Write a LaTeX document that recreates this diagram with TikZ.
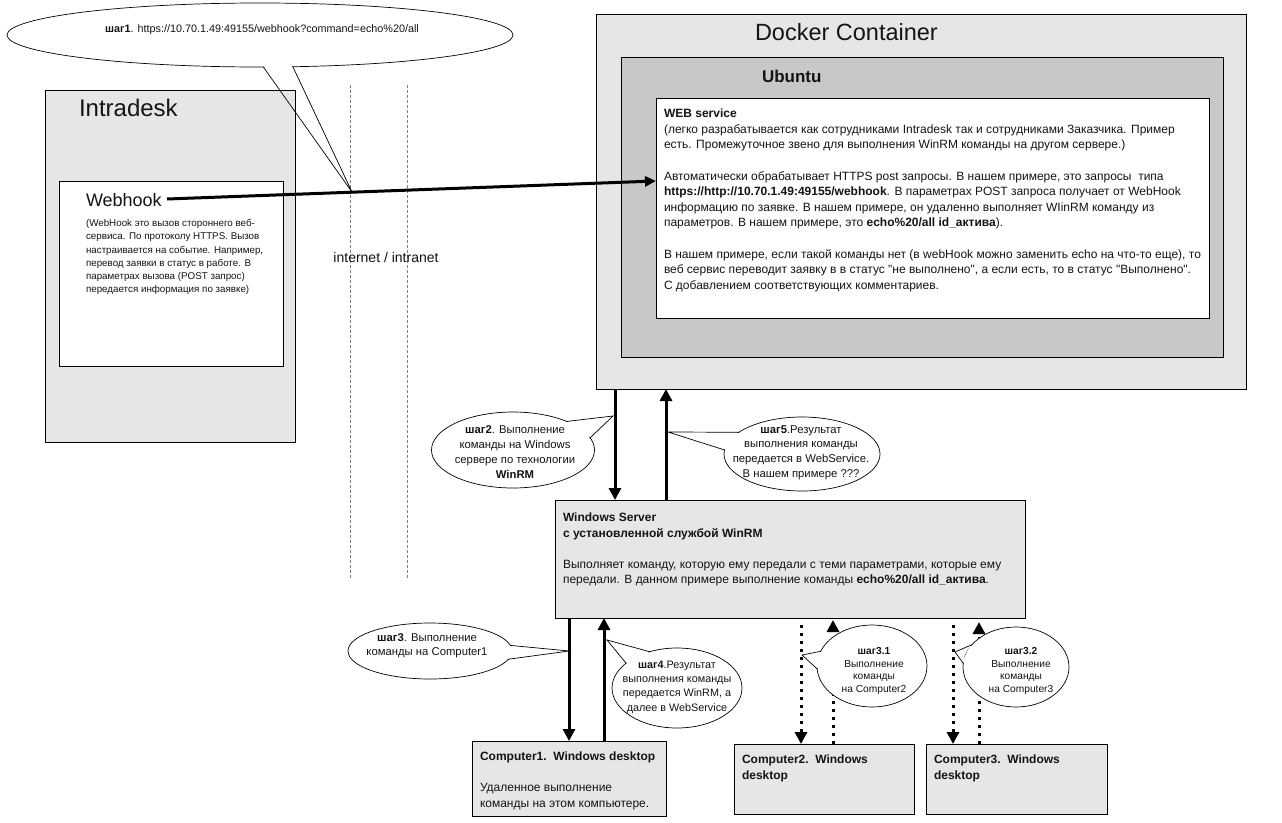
\documentclass[tikz,border=0pt]{standalone}
\usepackage{fontspec}
\setmainfont{Liberation Sans}[Ligatures=TeXOff]
\usetikzlibrary{arrows.meta,calc,shapes.geometric}
\definecolor{lgray}{HTML}{E6E6E6}
\definecolor{mgray}{HTML}{C8C8C8}
\definecolor{txt}{HTML}{141414}
\newcommand\bubtail[4]{%
  \fill[white] ($(#1.#2)!0.12!(#4)$) -- ($(#1.#3)!0.12!(#4)$) -- ($(#1.#3)!0.06!(#1.center)$) -- ($(#1.#2)!0.06!(#1.center)$) -- cycle;
  \draw[tail] (#1.#2) -- (#4) -- (#1.#3);}
\begin{document}
\begin{tikzpicture}[x=1pt,y=-1pt,
  box/.style={draw=black, line width=0.9pt, inner sep=0, outer sep=0, anchor=north west},
  t/.style={inner sep=0, outer sep=0, text=txt, align=left},
  bubble/.style={ellipse, draw=black, line width=0.7pt, fill=white, inner sep=0, outer sep=0},
  arr/.style={line width=3pt, -{Triangle[width=12pt,length=12pt]}},
  darr/.style={line width=3pt, dash pattern=on 3pt off 5pt, -{Triangle[width=12pt,length=12pt]}},
  net/.style={draw=gray, line width=0.6pt, dash pattern=on 3pt off 2pt},
  tail/.style={line width=0.7pt}
]
\useasboundingbox[fill=white] (0,0) rectangle (1282,822);

% network boundary
\draw[net] (350,85) -- (350,580);
\draw[net] (407,85) -- (407,580);
\node[t, font=\fontsize{14}{16}\selectfont] (inet) at (386,257) {internet / intranet};

% Intradesk
\node[box, fill=lgray, minimum width=250, minimum height=352] (intra) at (45,90) {};
\node[t, anchor=west, font=\fontsize{24}{28}\selectfont] (intraT) at (79,108) {Intradesk};
\node[box, fill=white, minimum width=224, minimum height=185] (whbox) at (59,181) {};
\node[t, anchor=west, font=\fontsize{18}{22}\selectfont] (whk) at (86,200) {Webhook};
\node[t, anchor=north west, font=\fontsize{9.8}{13.2}\selectfont] (whdesc) at (86,219.5) {(WebHook это вызов стороннего веб-\\
сервиса. По протоколу HTTPS. Вызов\\
настраивается на событие. Например,\\
перевод заявки в статус в работе. В\\
параметрах вызова (POST запрос)\\
передается информация по заявке)};

% Docker / Ubuntu / Web service
\node[box, fill=lgray, minimum width=650, minimum height=375] (docker) at (596,14) {};
\node[t, anchor=west, font=\fontsize{23.5}{27}\selectfont] (dockerT) at (755,32) {Docker Container};
\node[box, fill=mgray, minimum width=602, minimum height=300] (ubuntu) at (621,57) {};
\node[t, anchor=west, font=\fontsize{17}{20}\selectfont\bfseries] (ubuntuT) at (762,76) {Ubuntu};
\node[box, fill=white, minimum width=553, minimum height=220] (ws) at (656,98) {};
\node[t, anchor=north west, font=\fontsize{12}{15.6}\selectfont] (wsT) at (664,109) {\textbf{WEB service}\\
(легко разрабатывается как сотрудниками Intradesk так и сотрудниками Заказчика. Пример\\
есть. Промежуточное звено для выполнения WinRM команды на другом сервере.)\\
\mbox{}\\
Автоматически обрабатывает HTTPS post запросы. В нашем примере, это запросы~~типа\\
\textbf{https://http://10.70.1.49:49155/webhook}. В параметрах POST запроса получает от WebHook\\
информацию по заявке. В нашем примере, он удаленно выполняет WIinRM команду из\\
параметров. В нашем примере, это \textbf{echo\%20/all id\_актива}).\\
\mbox{}\\
В нашем примере, если такой команды нет (в webHook можно заменить echo на что-то еще), то\\
веб сервис переводит заявку в в статус "не выполнено", а если есть, то в статус "Выполнено".\\
С добавлением соответствующих комментариев.};

% Windows server
\node[box, fill=lgray, minimum width=470, minimum height=118] (win) at (555,500) {};
\node[t, anchor=north west, font=\fontsize{12}{15.5}\selectfont] (winT) at (563,513) {\textbf{Windows Server}\\
\textbf{с установленной службой WinRM}\\
\mbox{}\\
Выполняет команду, которую ему передали с теми параметрами, которые ему\\
передали. В данном примере выполнение команды \textbf{echo\%20/all id\_актива}.};

% Computers
\node[box, fill=lgray, minimum width=194, minimum height=75] (pc1) at (472,741) {};
\node[t, anchor=north west, font=\fontsize{12}{15.5}\selectfont] (pc1T) at (480,752) {\textbf{Computer1.~~Windows desktop}\\
\mbox{}\\
Удаленное выполнение\\
команды на этом компьютере.};
\node[box, fill=lgray, minimum width=180, minimum height=70] (pc2) at (734,744) {};
\node[t, anchor=north west, font=\fontsize{12}{15.5}\selectfont\bfseries] (pc2T) at (742,755) {Computer2.~~Windows\\desktop};
\node[box, fill=lgray, minimum width=181, minimum height=70] (pc3) at (926,744) {};
\node[t, anchor=north west, font=\fontsize{12}{15.5}\selectfont\bfseries] (pc3T) at (934,755) {Computer3.~~Windows\\desktop};

% connector end points
\coordinate (whkout) at (167,199);
\coordinate (wsin) at (656,181);
\coordinate (x2) at (615,0);
\coordinate (x5) at (666,0);
\coordinate (x3) at (569,0);
\coordinate (x4) at (604,0);
\coordinate (d31) at (801,625);
\coordinate (x31) at (833,0);
\coordinate (d32) at (953,625);
\coordinate (x32) at (979,0);

% arrows
\draw[line width=3pt, -{Triangle[width=10pt,length=11pt]}] (whkout) -- (wsin);
\draw[arr] (docker.south -| x2) -- (win.north -| x2);
\draw[arr] (win.north -| x5) -- (docker.south -| x5);
\draw[arr] (win.south -| x3) -- (pc1.north -| x3);
\draw[arr] (pc1.north -| x4) -- (win.south -| x4);
\draw[darr] (d31) -- (pc2.north -| d31);
\draw[darr] (pc2.north -| x31) -- ($(win.south -| x31)+(0,2)$);
\draw[darr] (d32) -- (pc3.north -| d32);
\draw[darr] (pc3.north -| x32) -- ($(win.south -| x32)+(0,4)$);

% callouts
\node[bubble, minimum width=506, minimum height=64] (c1) at (260,35) {};
\coordinate (c1tip) at (352,192);
\bubtail{c1}{-84.6}{-44}{c1tip}
\node[t, align=center, font=\fontsize{10.8}{13}\selectfont] (c1t) at (262,30) {\textbf{шаг1}. https://10.70.1.49:49155/webhook?command=echo\%20/all};

\node[bubble, minimum width=163, minimum height=76] (c2) at (513,450) {};
\coordinate (c2tip) at (613,416);
\bubtail{c2}{28.7}{9.2}{c2tip}
\node[t, align=center, font=\fontsize{11.3}{14.7}\selectfont] (c2t) at (515,452) {\textbf{шаг2}. Выполнение\\команды на Windows\\сервере по технологии\\\textbf{WinRM}};

\node[bubble, minimum width=156, minimum height=74] (c5) at (802,454) {};
\coordinate (c5tip) at (668,432);
\bubtail{c5}{161.8}{177.8}{c5tip}
\node[t, align=center, font=\fontsize{11.3}{14.7}\selectfont] (c5t) at (801,452.5) {\textbf{шаг5}.Результат\\выполнения команды\\передается в WebService.\\В нашем примере ???};

\node[bubble, minimum width=164, minimum height=56] (c3) at (430,651) {};
\coordinate (c3tip) at (569,651);
\bubtail{c3}{4}{-6}{c3tip}
\node[t, align=center, font=\fontsize{11.3}{14}\selectfont] (c3t) at (427,646) {\textbf{шаг3}. Выполнение\\команды на Computer1};

\node[bubble, minimum width=130, minimum height=80] (c4) at (677,688) {};
\coordinate (c4tip) at (607,640);
\bubtail{c4}{127.9}{154.5}{c4tip}
\node[t, align=center, font=\fontsize{10.8}{14.3}\selectfont] (c4t) at (677,687) {\textbf{шаг4}.Результат\\выполнения команды\\передается WinRM, а\\далее в WebService};

\node[bubble, minimum width=110, minimum height=82] (c31) at (872,666) {};
\coordinate (c31tip) at (802,655);
\bubtail{c31}{164}{183}{c31tip}
\node[t, align=center, font=\fontsize{10.2}{12.8}\selectfont] (c31t) at (874,671) {\textbf{шаг3.1}\\Выполнение\\команды\\на Computer2};

\node[bubble, minimum width=106, minimum height=80] (c32) at (1016,667) {};
\coordinate (c32tip) at (955,652);
\bubtail{c32}{153}{176}{c32tip}
\node[t, align=center, font=\fontsize{10.2}{12.8}\selectfont] (c32t) at (1021,671) {\textbf{шаг3.2}\\Выполнение\\команды\\на Computer3};
\end{tikzpicture}
\end{document}
